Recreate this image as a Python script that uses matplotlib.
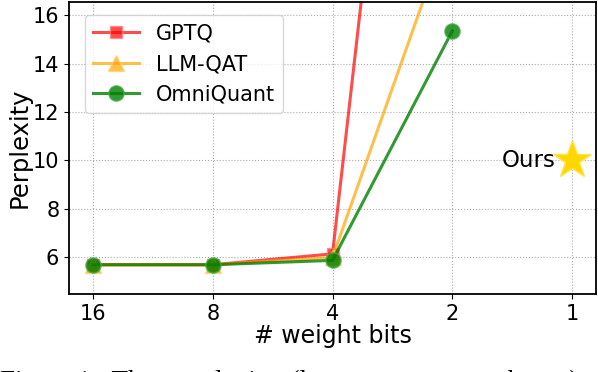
import matplotlib
matplotlib.use("Agg")
import matplotlib.pyplot as plt

bits_labels = ["16", "8", "4", "2", "1"]
gptq = [5.68, 5.68, 6.13, 49.7]
llm_qat = [5.68, 5.68, 5.98, 20.0]
omniquant = [5.68, 5.68, 5.86, 15.35]
ours_value = 10.0
yticks = [6, 8, 10, 12, 14, 16]

fig = plt.figure(figsize=(5.98, 3.72), dpi=100)
ax = fig.add_axes([0.1154, 0.2097, 0.8813, 0.785])

x = list(range(len(bits_labels)))
ax.plot(x[:4], gptq, color="red", alpha=0.7, marker="s", markersize=9,
        markeredgecolor="#FF8080", lw=2.2, label="GPTQ")
ax.plot(x[:4], llm_qat, color="orange", alpha=0.7, marker="^", markersize=11,
        markeredgecolor="#FFD070", lw=2.2, label="LLM-QAT")
ax.plot(x[:4], omniquant, color="green", alpha=0.8, marker="o", markersize=11,
        markeredgecolor="#4CAF4C", lw=2.2, label="OmniQuant")
ax.plot([x[4]], [ours_value], marker="*", color="gold", markersize=29,
        markeredgecolor="#FFE34D", linestyle="none")
ax.text(x[4] - 0.14, ours_value, "Ours", fontsize=16.5, ha="right", va="center")

ax.set_xlim(-0.2, 4.2)
ax.set_ylim(4.47, 16.55)
ax.set_xticks(x)
ax.set_xticklabels(bits_labels)
ax.set_yticks(yticks)
ax.tick_params(labelsize=15)
ax.grid(True, linestyle=":", color="#AAAAAA")
ax.set_xlabel("# weight bits", fontsize=17, labelpad=0)
ax.set_ylabel("Perplexity", fontsize=17.5, labelpad=1)
for s in ax.spines.values():
    s.set_linewidth(1.3)
ax.legend(loc="upper left", fontsize=15, handlelength=2.2, bbox_to_anchor=(0.01, 0.99))

fig.text(0.0, -0.062, "Figure 1:  The  perplexity  (lower score means better) of", fontsize=19.5,
         family="Liberation Serif", ha="left", va="bottom")

fig.savefig("out.png", dpi=100)
